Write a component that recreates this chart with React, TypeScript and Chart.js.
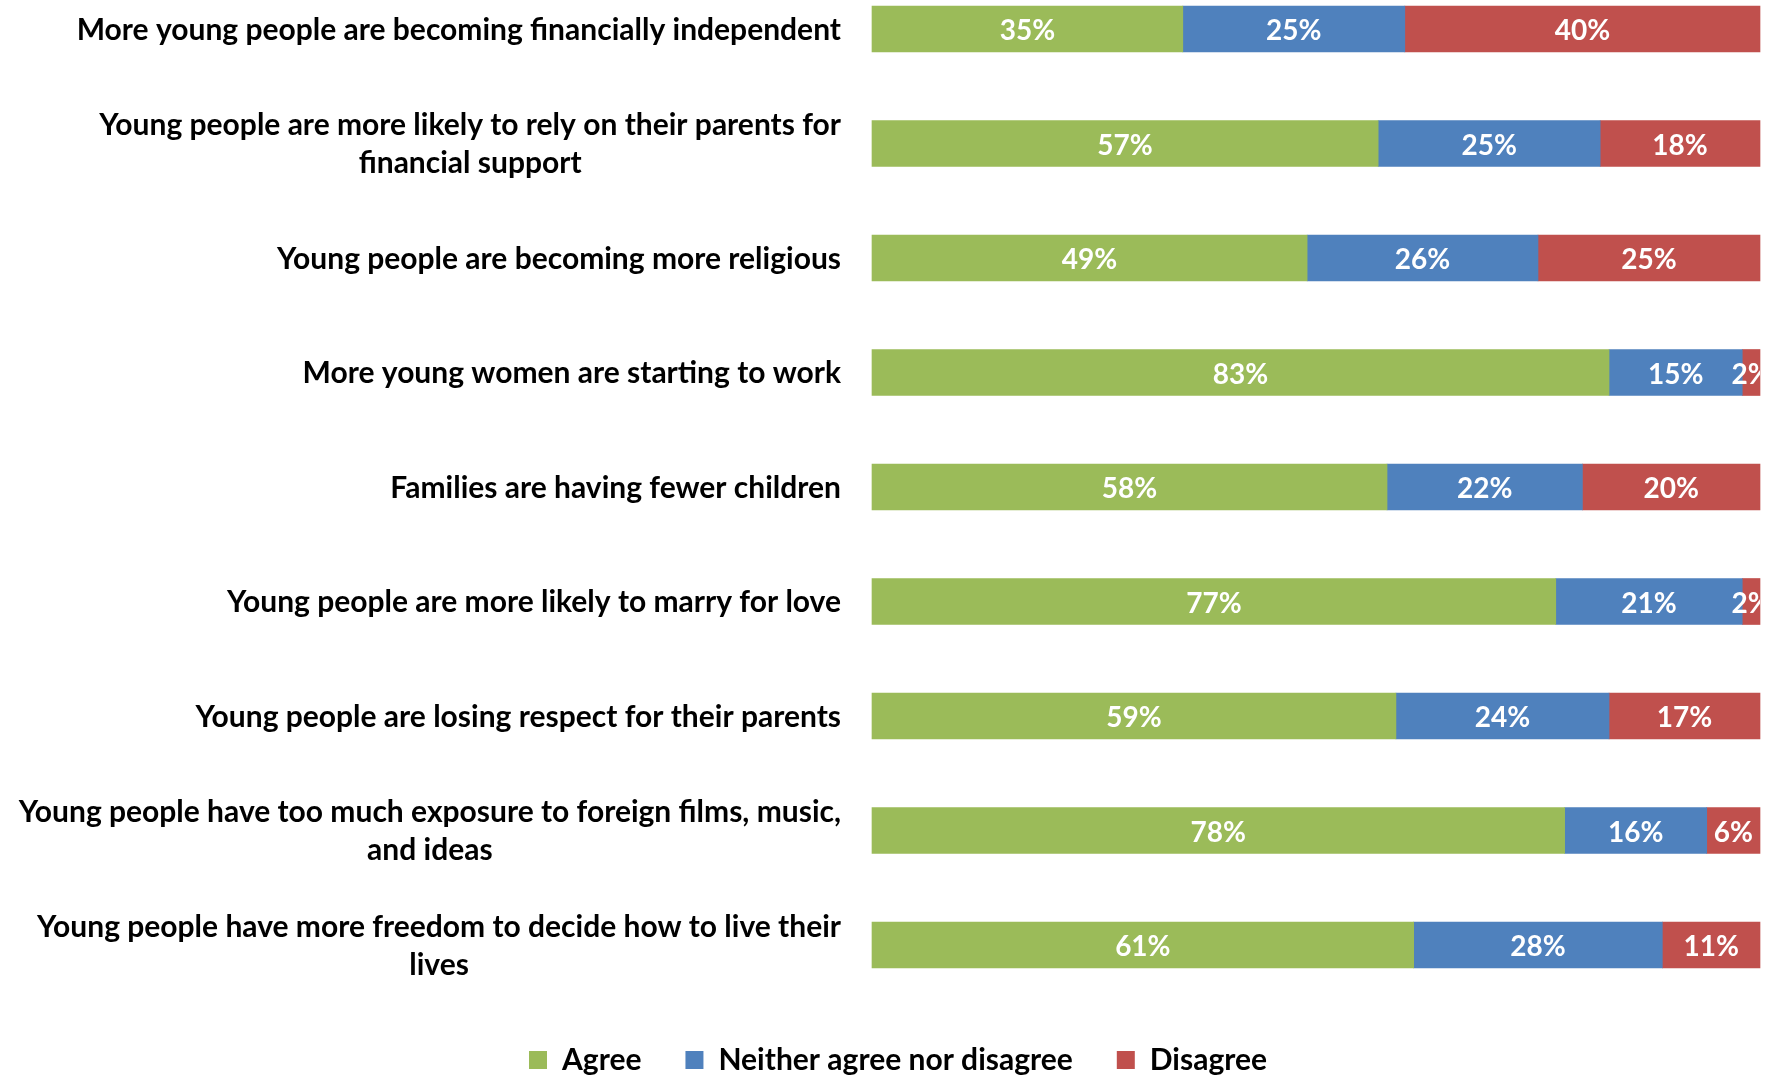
import React, { useEffect, useRef } from "react";
import { Chart, registerables } from "chart.js";

Chart.register(...registerables);

// ---- data ----
const categories: string[][] = [
  ["More young people are becoming financially independent"],
  ["Young people are more likely to rely on their parents for", "financial support"],
  ["Young people are becoming more religious"],
  ["More young women are starting to work"],
  ["Families are having fewer children"],
  ["Young people are more likely to marry for love"],
  ["Young people are losing respect for their parents"],
  ["Young people have too much exposure to foreign films, music,", "and ideas"],
  ["Young people have more freedom to decide how to live their", "lives"],
];
const agree = [35, 57, 49, 83, 58, 77, 59, 78, 61];
const neither = [25, 25, 26, 15, 22, 21, 24, 16, 28];
const disagree = [40, 18, 25, 2, 20, 2, 17, 6, 11];
const seriesNames = ["Agree", "Neither agree nor disagree", "Disagree"];
const seriesColors = ["#9BBB59", "#4F81BD", "#C0504D"];

const FONT = 'Lato, "Open Sans", sans-serif';
const LABEL_SIZE = 30;
const VALUE_SIZE = 28;
const LEGEND_SIZE = 30;

const categoryLabelsPlugin = {
  id: "categoryLabels",
  afterDraw(chart: any) {
    const { ctx, chartArea } = chart;
    const yScale = chart.scales.y;
    const right = chartArea.left - 31;
    ctx.save();
    ctx.font = `bold ${LABEL_SIZE}px ${FONT}`;
    ctx.fillStyle = "#000000";
    ctx.textAlign = "center";
    ctx.textBaseline = "middle";
    const lh = 38;
    categories.forEach((lines, i) => {
      const cy = yScale.getPixelForValue(i) + 1;
      const maxW = Math.max(...lines.map((l) => ctx.measureText(l).width));
      const cx = right - maxW / 2;
      lines.forEach((l, j) => {
        ctx.fillText(l, cx, cy + (j - (lines.length - 1) / 2) * lh);
      });
    });
    ctx.restore();
  },
};

const valueLabelsPlugin = {
  id: "valueLabels",
  afterDatasetsDraw(chart: any) {
    const { ctx, chartArea } = chart;
    ctx.save();
    ctx.beginPath();
    ctx.rect(0, 0, chartArea.right, chart.height);
    ctx.clip();
    ctx.font = `bold ${VALUE_SIZE}px ${FONT}`;
    ctx.fillStyle = "#FFFFFF";
    ctx.textAlign = "center";
    ctx.textBaseline = "middle";
    chart.data.datasets.forEach((ds: any, di: number) => {
      const meta = chart.getDatasetMeta(di);
      meta.data.forEach((bar: any, i: number) => {
        const v = ds.data[i];
        const cx = (bar.x + bar.base) / 2;
        ctx.fillText(`${v}%`, cx, bar.y + 2);
      });
    });
    ctx.restore();
  },
};

export default function App() {
  const ref = useRef<HTMLCanvasElement>(null);
  useEffect(() => {
    document.body.style.margin = "0";
    const chart = new Chart(ref.current as HTMLCanvasElement, {
      type: "bar",
      data: {
        labels: categories.map((c) => c.join(" ")),
        datasets: [agree, neither, disagree].map((d, i) => ({
          label: seriesNames[i],
          data: d,
          backgroundColor: seriesColors[i],
          borderWidth: 0,
          barThickness: 46,
          clip: false as any,
        })),
      },
      options: {
        indexAxis: "y",
        responsive: false,
        animation: false,
        devicePixelRatio: 1,
        layout: { padding: { top: 29, right: 7, left: 36, bottom: -9 } },
        scales: {
          x: {
            stacked: true,
            min: 0,
            max: 100,
            display: true,
            grid: { display: false },
            border: { display: false },
            ticks: { display: false },
            afterFit: (s: any) => {
              s.height = 56;
            },
          },
          y: {
            stacked: true,
            offset: false,
            display: true,
            grid: { display: false, offset: false },
            border: { display: false },
            ticks: { display: false },
            afterFit: (s: any) => {
              s.width = 836;
            },
          },
        },
        plugins: {
          legend: {
            position: "bottom",
            labels: {
              boxWidth: 18,
              boxHeight: 18,
              padding: 44,
              color: "#000000",
              font: { family: FONT, size: LEGEND_SIZE, weight: "bold" },
            },
          },
          tooltip: { enabled: false },
        },
      },
      plugins: [categoryLabelsPlugin, valueLabelsPlugin],
    });
    return () => chart.destroy();
  }, []);
  return (
    <div style={{ width: 1767, height: 1076 }}>
      <canvas ref={ref} width={1767} height={1076} style={{ display: "block" }} />
    </div>
  );
}
